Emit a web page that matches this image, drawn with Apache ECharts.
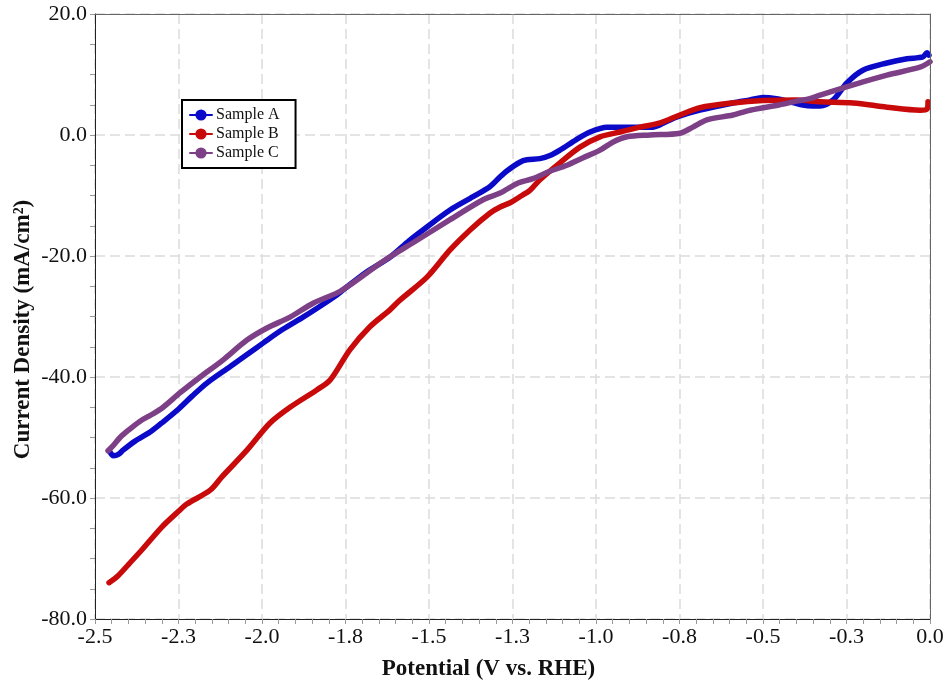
<!DOCTYPE html>
<html>
<head>
<meta charset="utf-8">
<script src="https://cdn.jsdelivr.net/npm/echarts/dist/echarts.min.js"></script>
<style>
  html, body { margin: 0; padding: 0; background: #fff; }
  #chart { width: 947px; height: 683px; }
</style>
</head>
<body>
<div id="chart"></div>
<script>
// Linear sweep voltammetry: potential (V vs. RHE) vs. current density (mA/cm²)
const seriesNames = ['Sample A', 'Sample B', 'Sample C'];

const sampleA = [
  [-2.455, -52.4], [-2.445, -53.0], [-2.43, -52.8], [-2.416, -52.1], [-2.38, -50.6],
  [-2.335, -49.1], [-2.30, -47.6], [-2.254, -45.5], [-2.21, -43.2], [-2.165, -41.0],
  [-2.096, -38.3], [-2.05, -36.5], [-1.997, -34.4], [-1.94, -32.2], [-1.877, -30.1],
  [-1.826, -28.3], [-1.775, -26.4], [-1.757, -25.6], [-1.686, -22.6], [-1.617, -20.2],
  [-1.56, -17.5], [-1.518, -15.7], [-1.437, -12.4], [-1.368, -10.2], [-1.317, -8.5],
  [-1.287, -6.9], [-1.266, -5.9], [-1.228, -4.5], [-1.207, -4.1], [-1.168, -3.9],
  [-1.138, -3.4], [-1.108, -2.5], [-1.06, -0.8], [-1.018, 0.5], [-0.967, 1.3],
  [-0.889, 1.3], [-0.829, 1.3], [-0.79, 2.2], [-0.757, 3.0], [-0.689, 4.1],
  [-0.59, 5.3], [-0.539, 5.8], [-0.50, 6.2], [-0.46, 6.0], [-0.42, 5.5],
  [-0.385, 5.0], [-0.35, 4.8], [-0.329, 4.8], [-0.29, 5.8], [-0.249, 8.6],
  [-0.201, 10.7], [-0.129, 11.9], [-0.069, 12.6], [-0.021, 12.9], [-0.009, 13.6], [-0.003, 13.2]
];

const sampleB = [
  [-2.458, -74.0], [-2.43, -72.8], [-2.40, -71.0], [-2.36, -68.6], [-2.30, -64.8],
  [-2.25, -62.2], [-2.225, -61.0], [-2.155, -58.7], [-2.12, -56.5], [-2.045, -52.1],
  [-1.976, -47.6], [-1.916, -45.0], [-1.835, -42.1], [-1.796, -40.5], [-1.737, -35.5],
  [-1.677, -31.7], [-1.617, -28.9], [-1.587, -27.3], [-1.506, -23.5], [-1.437, -19.0],
  [-1.377, -15.7], [-1.317, -12.9], [-1.287, -11.9], [-1.257, -11.2], [-1.228, -10.2],
  [-1.197, -9.1], [-1.168, -7.4], [-1.108, -4.6], [-1.048, -2.0], [-0.988, -0.3],
  [-0.928, 0.5], [-0.868, 1.3], [-0.808, 2.0], [-0.749, 3.3], [-0.689, 4.5],
  [-0.59, 5.3], [-0.50, 5.7], [-0.40, 5.8], [-0.329, 5.5], [-0.23, 5.3],
  [-0.129, 4.6], [-0.03, 4.1], [-0.009, 4.3], [-0.006, 5.5]
];

const sampleC = [
  [-2.461, -52.2], [-2.445, -51.3], [-2.425, -50.0], [-2.40, -48.8], [-2.365, -47.3],
  [-2.33, -46.2], [-2.296, -45.0], [-2.245, -42.6], [-2.185, -40.0], [-2.117, -37.2],
  [-2.045, -33.9], [-1.985, -31.9], [-1.916, -30.1], [-1.847, -27.8], [-1.775, -26.1],
  [-1.737, -24.8], [-1.638, -20.9], [-1.536, -17.4], [-1.437, -14.0], [-1.338, -10.7],
  [-1.287, -9.6], [-1.236, -8.0], [-1.189, -7.2], [-1.138, -6.0], [-1.087, -5.0],
  [-1.04, -3.8], [-0.988, -2.5], [-0.95, -1.2], [-0.907, -0.3], [-0.838, 0.0],
  [-0.749, 0.3], [-0.71, 1.3], [-0.668, 2.5], [-0.59, 3.3], [-0.539, 4.1],
  [-0.45, 5.0], [-0.40, 5.6], [-0.36, 6.0], [-0.329, 6.6], [-0.23, 8.3],
  [-0.129, 9.9], [-0.03, 11.2], [0.0, 12.1]
];

const seriesColors = ['#0a0ac8', '#c80a0a', '#7d3f86'];
const serif = '"Liberation Serif", "Times New Roman", serif';

const chart = echarts.init(document.getElementById('chart'));

const makeSeries = (name, data, color) => ({
  name: name,
  type: 'line',
  data: data,
  color: color,
  symbol: 'circle',
  symbolSize: 10,
  showSymbol: false,
  smooth: 0.3,
  lineStyle: { width: 5.5, color: color, cap: 'round', join: 'round' },
  itemStyle: { color: color },
  emphasis: { disabled: true },
  animation: false
});

// plain frame lines for the top and right sides of the plot box
const frameAxis = {
  show: true,
  axisLine: { show: true, onZero: false, lineStyle: { color: '#666', width: 1 } },
  axisTick: { show: false },
  axisLabel: { show: false },
  splitLine: { show: false },
  z: 5
};

chart.setOption({
  backgroundColor: '#fff',
  animation: false,
  grid: { left: 95, right: 17, top: 14, bottom: 64, containLabel: false, outerBoundsMode: 'none' },
  legend: {
    data: seriesNames,
    orient: 'vertical',
    left: 182, top: 100,
    padding: [7, 16, 7, 7],
    itemGap: 3,
    itemWidth: 22, itemHeight: 14,
    backgroundColor: '#fff',
    borderColor: '#000', borderWidth: 2,
    textStyle: { fontFamily: serif, fontSize: 16, color: '#111', padding: [0, 0, 0, -1] }
  },
  xAxis: [{
    type: 'value',
    min: -2.5, max: 0, interval: 0.25,
    name: 'Potential (V vs. RHE)',
    nameLocation: 'middle',
    nameGap: 39,
    nameMoveOverlap: false,
    nameTextStyle: { fontFamily: serif, fontSize: 23, fontWeight: 'bold', color: '#111', padding: [0, 48, 0, 0] },
    axisLine: { onZero: false, lineStyle: { color: '#222', width: 1 } },
    axisTick: { show: true, inside: false, length: 5, lineStyle: { color: '#999' } },
    minorTick: { show: true, splitNumber: 5, length: 5, lineStyle: { color: '#999' } },
    axisLabel: {
      fontFamily: serif, fontSize: 22, color: '#111', margin: 7,
      formatter: v => v.toFixed(1)
    },
    splitLine: { show: true, lineStyle: { color: '#dcdcdc', width: 1.5, type: [10, 5] } },
    minorSplitLine: { show: false }
  }, Object.assign({ type: 'value', position: 'top', min: -2.5, max: 0 }, frameAxis)],
  yAxis: [{
    type: 'value',
    min: -80, max: 20, interval: 20,
    name: 'Current Density (mA/cm²)',
    nameLocation: 'middle',
    nameGap: 60,
    nameMoveOverlap: false,
    nameTextStyle: { fontFamily: serif, fontSize: 23, fontWeight: 'bold', color: '#111', padding: [0, 26, 0, 0] },
    axisLine: { onZero: false, lineStyle: { color: '#222', width: 1 } },
    axisTick: { show: true, inside: false, length: 5, lineStyle: { color: '#999' } },
    minorTick: { show: true, splitNumber: 4, length: 5, lineStyle: { color: '#999' } },
    axisLabel: {
      fontFamily: serif, fontSize: 22, color: '#111', margin: 8,
      formatter: v => v.toFixed(1)
    },
    splitLine: { show: true, lineStyle: { color: '#dcdcdc', width: 1.5, type: [10, 5] } },
    minorSplitLine: { show: false }
  }, Object.assign({ type: 'value', position: 'right', min: -80, max: 20 }, frameAxis)],
  series: [
    makeSeries(seriesNames[0], sampleA, seriesColors[0]),
    makeSeries(seriesNames[1], sampleB, seriesColors[1]),
    makeSeries(seriesNames[2], sampleC, seriesColors[2])
  ]
});
</script>
</body>
</html>
